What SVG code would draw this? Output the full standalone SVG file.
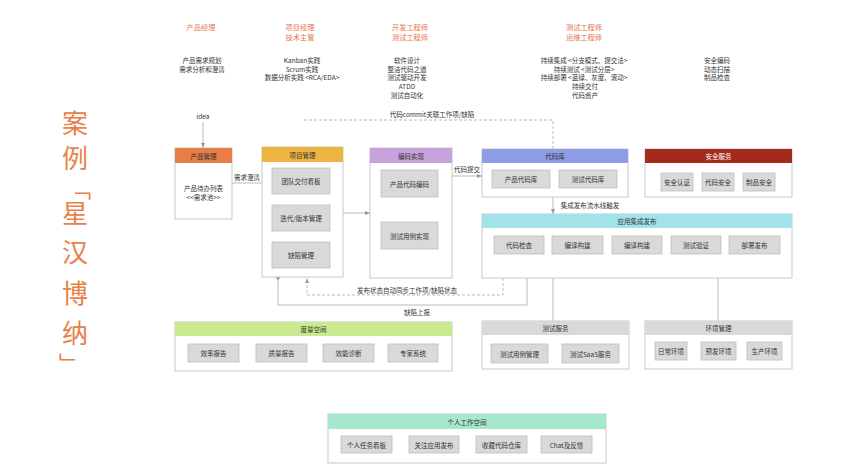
<svg xmlns="http://www.w3.org/2000/svg" width="857" height="470" viewBox="0 0 857 470">
<style>
.t{font-family:"Noto Sans CJK SC","Noto Sans",sans-serif;font-size:6.5px;fill:#333;text-anchor:middle;dominant-baseline:central}
.role{font-size:7.2px;fill:#E8734A}
.title{font-size:26px;fill:#E8804A}
.br{font-size:22px}
.box{fill:#fff;stroke:#C8C8C8;stroke-width:1}
.in{fill:#D9D9D9;stroke:#BDBDBD;stroke-width:0.8}
.ln{fill:none;stroke:#A8A8A8;stroke-width:0.8}
.ds{stroke-dasharray:3 2}
.w{fill:#fff}
</style>
<defs>
<marker id="arr" viewBox="0 0 10 10" refX="10" refY="5" markerWidth="5" markerHeight="5" markerUnits="userSpaceOnUse" orient="auto"><path d="M0,1 L10,5 L0,9 z" fill="#999"/></marker>
</defs>
<rect width="857" height="470" fill="#fff"/>

<g id="title">
<text class="t title" x="75" y="121">案</text>
<text class="t title" x="75" y="156">例</text>
<text class="t title br" x="80" y="187">﹁</text>
<text class="t title" x="75" y="211">星</text>
<text class="t title" x="75" y="250">汉</text>
<text class="t title" x="75" y="291">博</text>
<text class="t title" x="75" y="331">纳</text>
<text class="t title br" x="70" y="362">﹂</text>
</g>

<g id="roles">
<text class="t role" x="201" y="27">产品经理</text>
<text class="t role" x="300" y="27">项目经理</text>
<text class="t role" x="300" y="37">技术主管</text>
<text class="t role" x="410" y="27">开发工程师</text>
<text class="t role" x="410" y="37">测试工程师</text>
<text class="t role" x="584" y="27">测试工程师</text>
<text class="t role" x="584" y="37">运维工程师</text>
</g>

<g id="practices">
<text class="t" x="202" y="60">产品需求规划</text>
<text class="t" x="202" y="68.5">需求分析和澄清</text>
<text class="t" x="302" y="60">Kanban实践</text>
<text class="t" x="302" y="68.5">Scrum实践</text>
<text class="t" x="302" y="77">数据分析实践 &lt;RCA/EDA&gt;</text>
<text class="t" x="407" y="60">软件设计</text>
<text class="t" x="407" y="68.5">整洁代码之道</text>
<text class="t" x="407" y="77">测试驱动开发</text>
<text class="t" x="407" y="86">ATDD</text>
<text class="t" x="407" y="95">测试自动化</text>
<text class="t" x="584" y="60">持续集成 &lt;分支模式、提交法&gt;</text>
<text class="t" x="584" y="68.5">持续测试 &lt;测试分层&gt;</text>
<text class="t" x="584" y="77">持续部署 &lt;蓝绿、灰度、滚动&gt;</text>
<text class="t" x="585" y="86">持续交付</text>
<text class="t" x="585" y="95">代码资产</text>
<text class="t" x="717" y="60">安全编码</text>
<text class="t" x="717" y="68.5">动态扫描</text>
<text class="t" x="717" y="77">制品检查</text>
<text class="t" x="203" y="116">idea</text>
</g>

<g id="connectors">
<line class="ln" x1="203" y1="122" x2="203" y2="148" marker-end="url(#arr)"/>
<line class="ln" x1="232" y1="183" x2="272" y2="183" marker-end="url(#arr)"/>
<text class="t" x="247" y="177">需求澄清</text>
<line class="ln" x1="343" y1="213" x2="370" y2="213" marker-end="url(#arr)"/>
<line class="ln" x1="452" y1="176" x2="482" y2="176" marker-end="url(#arr)"/>
<text class="t" x="467" y="169">代码提交</text>
<path class="ln ds" d="M304,120 H553 V149"/>
<text class="t" x="432" y="114">代码commit关联工作项/缺陷</text>
<line class="ln" x1="553" y1="197" x2="553" y2="214" marker-end="url(#arr)"/>
<text class="t" x="590" y="205">集成发布流水线触发</text>
<path class="ln" d="M527,278 V305 H278 V277"/>
<path d="M275.5,277 H280.5 L278,280.5 z" fill="#999"/>
<text class="t" x="417" y="312">缺陷上报</text>
<path class="ln ds" d="M503,278 V295 H307 V278" marker-end="url(#arr)"/>
<text class="t" x="407" y="290">发布状态自动同步工作项/缺陷状态</text>
<line class="ln" x1="553" y1="278" x2="553" y2="321"/>
<line class="ln" x1="718" y1="278" x2="718" y2="321"/>
</g>

<g id="product-mgmt">
<rect class="box" x="175" y="148" width="57" height="71"/>
<rect x="175" y="148" width="57" height="15" fill="#E87D45"/>
<text class="t" x="203.5" y="155.5">产品管理</text>
<text class="t" x="203.5" y="188">产品待办列表</text>
<text class="t" x="203.5" y="197">&lt;&lt;需求池&gt;&gt;</text>
</g>

<g id="project-mgmt">
<rect class="box" x="262" y="147" width="81" height="130"/>
<rect x="262" y="147" width="81" height="15" fill="#EDB540"/>
<text class="t" x="302.5" y="154.5">项目管理</text>
<rect class="in" x="272" y="168" width="58" height="26"/>
<text class="t" x="301" y="181">团队交付看板</text>
<rect class="in" x="272" y="205" width="58" height="26"/>
<text class="t" x="301" y="218">迭代/版本管理</text>
<rect class="in" x="272" y="242" width="58" height="26"/>
<text class="t" x="301" y="255">缺陷管理</text>
</g>

<g id="coding">
<rect class="box" x="370" y="148" width="82" height="130"/>
<rect x="370" y="148" width="82" height="15" fill="#C8A2DD"/>
<text class="t" x="411" y="155.5">编码实现</text>
<rect class="in" x="381" y="170" width="57" height="27"/>
<text class="t" x="409.5" y="183.5">产品代码编码</text>
<rect class="in" x="381" y="222" width="57" height="27"/>
<text class="t" x="409.5" y="235.5">测试用例实现</text>
</g>

<g id="code-repo">
<rect class="box" x="482" y="149" width="146" height="48"/>
<rect x="482" y="149" width="146" height="14" fill="#8F9CE6"/>
<text class="t" x="555" y="156">代码库</text>
<rect class="in" x="492" y="170" width="58" height="18"/>
<text class="t" x="521" y="179">产品代码库</text>
<rect class="in" x="559" y="170" width="58" height="18"/>
<text class="t" x="588" y="179">测试代码库</text>
</g>

<g id="security">
<rect class="box" x="645" y="149" width="147" height="48"/>
<rect x="645" y="149" width="147" height="14" fill="#A52A1E"/>
<text class="t w" x="718.5" y="156">安全服务</text>
<rect class="in" x="661" y="173" width="32" height="18"/>
<text class="t" x="677" y="182">安全认证</text>
<rect class="in" x="702" y="173" width="32" height="18"/>
<text class="t" x="718" y="182">代码安全</text>
<rect class="in" x="743" y="173" width="32" height="18"/>
<text class="t" x="759" y="182">制品安全</text>
</g>

<g id="app-release">
<rect class="box" x="482" y="214" width="310" height="64"/>
<rect x="482" y="214" width="310" height="14" fill="#A2E3EA"/>
<text class="t" x="637" y="221">应用集成发布</text>
<rect class="in" x="494" y="236" width="50" height="18"/>
<text class="t" x="519" y="245">代码检查</text>
<rect class="in" x="552" y="236" width="51" height="18"/>
<text class="t" x="577.5" y="245">编译构建</text>
<rect class="in" x="612" y="236" width="50" height="18"/>
<text class="t" x="637" y="245">编译构建</text>
<rect class="in" x="671" y="236" width="50" height="18"/>
<text class="t" x="696" y="245">测试验证</text>
<rect class="in" x="729" y="236" width="51" height="18"/>
<text class="t" x="754.5" y="245">部署发布</text>
</g>

<g id="metrics">
<rect class="box" x="175" y="322" width="277" height="49"/>
<rect x="175" y="322" width="277" height="14" fill="#C9EA8E"/>
<text class="t" x="313.5" y="329">度量空间</text>
<rect class="in" x="188" y="344" width="51" height="18"/>
<text class="t" x="213.5" y="353">效率报告</text>
<rect class="in" x="256" y="344" width="51" height="18"/>
<text class="t" x="281.5" y="353">质量报告</text>
<rect class="in" x="323" y="344" width="51" height="18"/>
<text class="t" x="348.5" y="353">效能诊断</text>
<rect class="in" x="388" y="344" width="50" height="18"/>
<text class="t" x="413" y="353">专家系统</text>
</g>

<g id="test-service">
<rect class="box" x="482" y="321" width="147" height="48"/>
<rect x="482" y="321" width="147" height="14" fill="#D9D9D9"/>
<text class="t" x="555.5" y="328">测试服务</text>
<rect class="in" x="491" y="344" width="57" height="19"/>
<text class="t" x="519.5" y="353.5">测试用例管理</text>
<rect class="in" x="562" y="344" width="57" height="19"/>
<text class="t" x="590.5" y="353.5">测试SaaS服务</text>
</g>

<g id="env-mgmt">
<rect class="box" x="645" y="321" width="147" height="48"/>
<rect x="645" y="321" width="147" height="14" fill="#D9D9D9"/>
<text class="t" x="718.5" y="328">环境管理</text>
<rect class="in" x="655" y="342" width="32" height="18"/>
<text class="t" x="671" y="351">日常环境</text>
<rect class="in" x="701" y="342" width="35" height="18"/>
<text class="t" x="718.5" y="351">预发环境</text>
<rect class="in" x="747" y="342" width="35" height="18"/>
<text class="t" x="764.5" y="351">生产环境</text>
</g>

<g id="personal">
<rect class="box" x="328" y="414" width="278" height="49"/>
<rect x="328" y="414" width="278" height="15" fill="#A6E8CC"/>
<text class="t" x="467" y="421.5">个人工作空间</text>
<rect class="in" x="341" y="436" width="51" height="17"/>
<text class="t" x="366.5" y="444.5">个人任务看板</text>
<rect class="in" x="409" y="436" width="50" height="17"/>
<text class="t" x="434" y="444.5">关注应用发布</text>
<rect class="in" x="476" y="436" width="51" height="17"/>
<text class="t" x="501.5" y="444.5">收藏代码仓库</text>
<rect class="in" x="541" y="436" width="51" height="17"/>
<text class="t" x="566.5" y="444.5">Chat及反馈</text>
</g>
</svg>
